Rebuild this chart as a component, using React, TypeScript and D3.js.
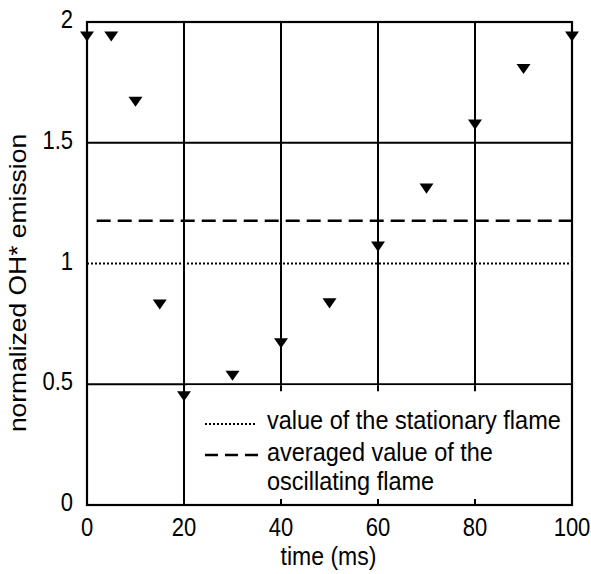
import React from "react";
import * as d3 from "d3";

// Phase-resolved OH* chemiluminescence over one oscillation period
const timeMs = [0, 5, 10, 15, 20, 30, 40, 50, 60, 70, 80, 90, 100];
const ohEmission = [1.94, 1.94, 1.67, 0.83, 0.45, 0.535, 0.67, 0.835, 1.07, 1.31, 1.575, 1.805, 1.94];
const stationaryValue = 1.0;
const averagedValue = 1.177;
const xTicks = [0, 20, 40, 60, 80, 100];
const yTicks = [0, 0.5, 1, 1.5, 2];
const yTickLabels = ["0", "0.5", "1", "1.5", "2"];
const legendStationary = ["value of the stationary flame"];
const legendAveraged = ["averaged value of the", "oscillating flame"];

const W = 591;
const H = 574;
const margin = { left: 87, right: 19, top: 22, bottom: 69 };
const FONT = "'Liberation Sans', Arial, sans-serif";
// glyphs in this figure are drawn slightly tall
const SY = 1.13;

// downward-pointing flat triangle centred on the data point
const downTriangle = {
  draw(ctx: any, size: number) {
    const w = Math.sqrt(size) * 1.25;
    const h = w * 0.72;
    ctx.moveTo(-w / 2, -h / 2);
    ctx.lineTo(w / 2, -h / 2);
    ctx.lineTo(0, h / 2);
    ctx.closePath();
  },
};

function HText(props: { x: number; y: number; anchor?: string; size: number; children: React.ReactNode }) {
  return (
    <text
      transform={`translate(${props.x},${props.y}) scale(1,${SY})`}
      textAnchor={props.anchor || "start"}
      fontFamily={FONT}
      fontSize={props.size}
      fill="#000"
    >
      {props.children}
    </text>
  );
}

export default function App() {
  const x = d3.scaleLinear().domain([0, 100]).range([margin.left, W - margin.right]);
  const y = d3.scaleLinear().domain([0, 2]).range([H - margin.bottom, margin.top]);
  const x0 = x(0), x1 = x(100), y0 = y(0), y1 = y(2);

  const tri = d3.symbol().type(downTriangle as any).size(125)();

  const legendLeft = x(20) + 3;
  const legendTop = y(0.5) + 1;

  return (
    <svg width={W} height={H} style={{ position: "absolute", left: 0, top: 0, background: "#fff" }}>
      <rect x={0} y={0} width={W} height={H} fill="#fff" />
      {/* horizontal grid */}
      {[0.5, 1.5].map((v) => (
        <line key={"h" + v} x1={x0} x2={x1} y1={y(v)} y2={y(v)} stroke="#000" strokeWidth={2} />
      ))}
      {/* vertical grid */}
      {[20, 40, 60, 80].map((v) => (
        <line key={"v" + v} x1={x(v)} x2={x(v)} y1={y1} y2={y0} stroke="#000" strokeWidth={2} />
      ))}
      {/* stationary flame reference */}
      <line x1={x0} x2={x1} y1={y(stationaryValue)} y2={y(stationaryValue)} stroke="#000" strokeWidth={2} strokeDasharray="2 2" />
      {/* averaged value of the oscillating flame */}
      <line x1={x(2)} x2={x1} y1={y(averagedValue)} y2={y(averagedValue)} stroke="#000" strokeWidth={2.6} strokeDasharray="14 7" />

      {/* legend box */}
      <rect x={legendLeft} y={legendTop} width={x1 - legendLeft} height={y0 - legendTop} fill="#fff" />
      {[40, 60, 80].map((v) => (
        <g key={"t" + v}>
          <line x1={x(v)} x2={x(v)} y1={legendTop} y2={legendTop + 6} stroke="#000" strokeWidth={2} />
          <line x1={x(v)} x2={x(v)} y1={y0} y2={y0 - 6} stroke="#000" strokeWidth={2} />
        </g>
      ))}
      <line x1={205} x2={257} y1={424} y2={424} stroke="#000" strokeWidth={2} strokeDasharray="2 2" />
      <line x1={205} x2={258} y1={455} y2={455} stroke="#000" strokeWidth={2.6} strokeDasharray="13 7" />
      <HText x={267} y={429} size={23.5}>{legendStationary[0]}</HText>
      {legendAveraged.map((s, i) => (
        <HText key={s} x={267} y={461 + i * 29} size={23.5}>{s}</HText>
      ))}

      {/* plot frame */}
      <rect x={x0} y={y1} width={x1 - x0} height={y0 - y1} fill="none" stroke="#000" strokeWidth={2.2} />

      {/* markers */}
      {timeMs.map((t, i) => (
        <path key={"m" + i} d={tri} transform={`translate(${x(t)},${y(ohEmission[i])})`} fill="#000" />
      ))}

      {/* tick labels */}
      {xTicks.map((v) => (
        <HText key={"xl" + v} x={x(v)} y={y0 + 31} anchor="middle" size={22}>{v}</HText>
      ))}
      {yTicks.map((v, i) => (
        <HText key={"yl" + v} x={x0 - 14} y={y(v) + 6} anchor="end" size={22}>{yTickLabels[i]}</HText>
      ))}

      {/* axis titles */}
      <HText x={(x0 + x1) / 2 - 1} y={565} anchor="middle" size={23}>time (ms)</HText>
      <text
        transform={`translate(26,283) scale(1,1.15) rotate(-90)`}
        textAnchor="middle"
        fontFamily={FONT}
        fontSize={23}
        fill="#000"
      >
        normalized OH* emission
      </text>
    </svg>
  );
}
